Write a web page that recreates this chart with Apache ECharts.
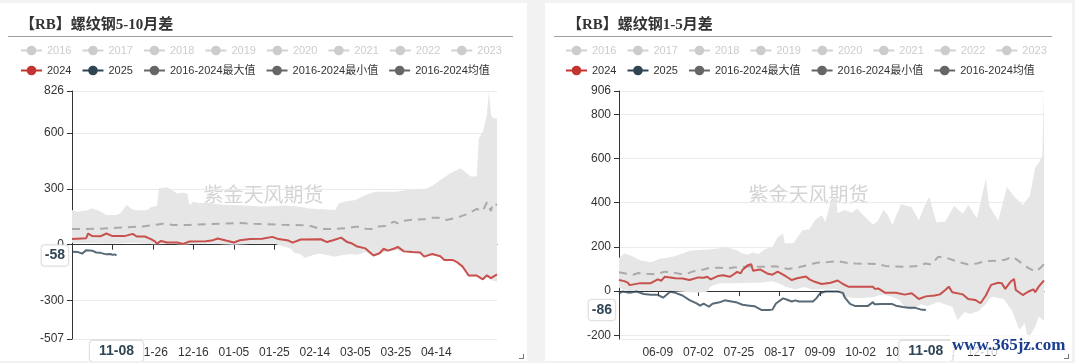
<!DOCTYPE html>
<html><head><meta charset="utf-8">
<script src="https://cdn.jsdelivr.net/npm/echarts@6/dist/echarts.min.js"></script>
<style>
html,body{margin:0;padding:0;background:#f2f2f2;width:1075px;height:363px;overflow:hidden;position:relative;}
.panel{position:absolute;top:3px;width:527px;height:358px;background:#fff;}
#p1{left:0}
#p2{left:545px}
.title{position:absolute;left:20px;top:12px;line-height:18px;font-weight:bold;font-size:15px;font-family:"Liberation Serif","DejaVu Serif","Noto Sans CJK SC";color:#333;z-index:2;}
.rule{position:absolute;left:8px;right:14px;top:33px;height:1px;background:#a0a0a0;z-index:2;}
.chart{position:absolute;left:0;top:0;width:527px;height:358px;}
.corner{position:absolute;right:3px;bottom:2px;width:4px;height:4px;border-right:1px solid #777;border-bottom:1px solid #777;z-index:3;}
.wm{position:absolute;left:950px;top:335px;line-height:20px;padding:0 2px;font-weight:bold;font-size:17px;font-family:"Liberation Serif","DejaVu Serif";color:#1a3d8f;background:rgba(255,255,255,0.75);z-index:5;}
</style></head>
<body>
<div class="panel" id="p1"><div class="chart" id="c1"></div><div class="title">【RB】螺纹钢5-10月差</div><div class="rule"></div><div class="corner"></div></div>
<div class="panel" id="p2"><div class="chart" id="c2"></div><div class="title" style="left:22px">【RB】螺纹钢1-5月差</div><div class="rule" style="left:9px;right:20px"></div><div class="corner"></div></div>
<div class="wm">www.365jz.com</div>
<script>
function dayRange(start, count) {
  const out = []; const d = new Date(start + 'T00:00:00Z');
  for (let i = 0; i < count; i++) {
    out.push(String(d.getUTCMonth() + 1).padStart(2, '0') + '-' + String(d.getUTCDate()).padStart(2, '0'));
    d.setUTCDate(d.getUTCDate() + 1);
  }
  return out;
}
// categories (MM-DD)
const cats1 = dayRange('2023-10-17', 211);
const cats2 = dayRange('2024-05-18', 242);
const years = ['2016','2017','2018','2019','2020','2021','2022','2023'];
const mainNames = ['2024','2025','2016-2024最大值','2016-2024最小值','2016-2024均值'];

// ---- 5-10 spread: [category index, value]
const red1 = [[0,30],[7,35],[8,60],[10,46],[14,45],[17,60],[20,46],[26,46],[30,58],[32,44],[36,44],[39,30],[41,18],[42,6],[44,20],[47,12],[52,12],[55,4],[58,17],[66,18],[69,22],[72,33],[76,22],[80,12],[83,24],[88,30],[94,32],[99,42],[102,30],[107,22],[109,11],[113,28],[123,29],[126,14],[129,24],[133,38],[136,14],[138,8],[141,-10],[145,-20],[149,-58],[152,-46],[154,-22],[156,-32],[159,-22],[161,-12],[164,-36],[168,-40],[172,-42],[174,-64],[178,-50],[182,-62],[184,-82],[188,-82],[190,-92],[193,-118],[196,-166],[200,-166],[203,-186],[205,-164],[207,-180],[210,-160]];
const navy1 = [[0,-38],[3,-40],[5,-48],[7,-30],[10,-32],[12,-42],[14,-44],[17,-52],[19,-50],[20,-55],[21,-52],[22,-58]];
const mean1 = [[0,84],[7,84],[14,86],[24,92],[35,98],[45,113],[50,106],[58,106],[66,110],[74,113],[83,117],[90,112],[97,110],[104,107],[114,105],[118,100],[123,84],[130,84],[136,90],[140,96],[143,97],[145,86],[148,84],[150,96],[155,101],[159,124],[161,115],[164,128],[168,134],[174,136],[177,145],[182,145],[185,133],[190,145],[195,163],[200,192],[203,181],[205,228],[207,181],[208,222],[210,213]];
const max1 = [[0,187],[3,175],[5,183],[7,183],[10,196],[14,178],[17,160],[22,160],[24,169],[25,187],[27,213],[29,196],[31,185],[37,185],[39,201],[42,209],[43,303],[47,309],[49,296],[52,274],[54,281],[57,275],[58,213],[60,231],[63,223],[67,225],[75,215],[85,210],[95,205],[105,210],[112,205],[117,195],[130,187],[132,223],[135,232],[140,240],[145,267],[150,285],[160,285],[167,297],[175,300],[178,315],[182,348],[187,384],[192,411],[197,366],[200,366],[201,572],[203,604],[205,700],[206,826],[207,700],[208,680],[210,680]];
const min1 = [[0,10],[10,8],[20,5],[30,10],[40,2],[42,2],[50,5],[55,0],[60,5],[70,5],[80,0],[90,5],[100,5],[108,-20],[110,-45],[113,-50],[115,-72],[118,-60],[122,-48],[126,-55],[130,-65],[134,-55],[138,-50],[141,-55],[145,-40],[149,-62],[152,-50],[156,-36],[160,-28],[164,-40],[168,-44],[172,-46],[174,-68],[178,-55],[182,-66],[184,-86],[188,-86],[190,-96],[193,-122],[196,-172],[200,-172],[203,-190],[205,-175],[207,-190],[210,-199]];

// ---- 1-5 spread
const red2 = [[0,50],[3,45],[5,38],[6,27],[12,36],[18,36],[19,43],[22,53],[24,47],[26,65],[32,58],[36,57],[40,50],[45,62],[48,60],[50,65],[52,53],[56,68],[59,72],[63,65],[67,87],[69,80],[70,96],[73,117],[75,122],[76,92],[80,98],[84,80],[87,74],[90,88],[91,82],[95,65],[98,50],[101,58],[106,66],[108,53],[111,42],[115,32],[120,38],[124,48],[127,32],[130,20],[144,20],[145,10],[147,12],[151,-8],[157,-8],[162,-16],[166,-10],[170,-36],[174,-24],[179,-20],[182,-15],[185,5],[187,20],[189,-5],[195,-15],[198,-36],[202,-40],[205,-55],[208,-20],[211,28],[215,38],[217,36],[219,10],[222,42],[224,55],[225,5],[229,-18],[232,-3],[235,8],[236,-5],[238,20],[241,48]];
const navy2 = [[0,-10],[2,-2],[6,-8],[10,-2],[14,-13],[18,-17],[22,-17],[25,-30],[27,-17],[29,-3],[32,-8],[36,-20],[40,-41],[44,-56],[46,-66],[48,-57],[51,-71],[53,-57],[57,-51],[60,-42],[63,-46],[67,-52],[70,-62],[74,-66],[77,-69],[81,-86],[85,-86],[87,-84],[89,-56],[90,-47],[93,-33],[95,-38],[98,-47],[100,-42],[102,-47],[110,-47],[112,-32],[114,-10],[117,-2],[124,-2],[127,-8],[128,-28],[131,-58],[134,-68],[141,-68],[144,-50],[145,-60],[149,-58],[155,-59],[157,-66],[161,-72],[164,-75],[168,-76],[171,-83],[172,-80],[174,-86]];
const mean2 = [[0,85],[5,78],[8,74],[11,82],[16,78],[21,76],[26,88],[31,84],[35,77],[39,80],[42,89],[48,98],[52,106],[57,106],[61,102],[65,107],[69,108],[73,111],[80,110],[89,112],[96,100],[102,108],[106,116],[112,128],[119,132],[124,136],[129,128],[134,125],[147,122],[151,114],[155,112],[162,110],[168,112],[174,125],[177,120],[181,155],[186,150],[192,133],[198,120],[203,125],[208,136],[215,138],[219,142],[223,156],[226,140],[232,105],[236,88],[239,105],[241,122]];
const max2 = [[0,150],[3,170],[7,160],[12,140],[18,131],[23,146],[31,157],[36,170],[40,183],[44,185],[50,188],[55,192],[61,200],[67,185],[69,174],[73,165],[76,175],[79,167],[83,190],[87,200],[90,245],[93,260],[94,215],[99,218],[104,276],[108,280],[111,321],[115,343],[117,313],[120,404],[123,426],[124,352],[128,367],[132,355],[135,374],[139,340],[144,300],[147,320],[150,367],[152,350],[155,300],[160,393],[166,380],[170,320],[174,400],[176,426],[180,310],[185,315],[190,385],[195,350],[198,390],[203,330],[208,509],[210,385],[215,320],[220,470],[225,420],[229,390],[233,430],[236,560],[238,580],[240,610],[241,906]];
const min2 = [[0,15],[5,0],[12,2],[20,0],[30,0],[38,-4],[45,-6],[50,-3],[52,22],[57,35],[65,36],[73,38],[80,38],[87,44],[92,30],[95,18],[100,8],[105,18],[110,6],[115,8],[124,8],[127,-26],[135,-32],[144,-28],[149,-15],[155,-26],[159,-41],[162,-71],[166,-86],[171,-60],[175,-68],[181,-50],[189,-71],[192,-131],[196,-95],[199,-104],[204,-90],[208,-60],[211,-26],[218,-35],[223,-90],[227,-176],[230,-146],[232,-217],[236,-161],[238,-116],[241,-134]];

const yRange1 = [-507, 826];
const yRange2 = [-217, 906];

function pointerLabel(fmt, pad) {
  const l = { show: true, color: '#2f4554', fontWeight: 'bold', fontSize: 14, backgroundColor: '#fff',
    padding: pad, borderColor: '#e6e6e6', borderWidth: 1, shadowBlur: 2, shadowColor: 'rgba(0,0,0,0.1)', margin: 4,
    fontFamily: 'Liberation Sans' };
  if (fmt) l.formatter = fmt;
  return l;
}

function build(elId, cats, labelFn, red, navy, mx, mn, mean, yr, gridLR) {
  const chart = echarts.init(document.getElementById(elId));
  const last = navy[navy.length - 1];
  const lineBase = { type: 'line', symbol: 'circle', showSymbol: false, animation: false, silent: true };
  const series = years.map(y => Object.assign({}, lineBase, { name: y, data: [], itemStyle: { color: '#ccc' } }));
  series.push(Object.assign({}, lineBase, { name: 'band', type: 'custom', data: [0], z: 1,
    renderItem: function (params, api) {
      const pts = mx.map(p => api.coord(p)).concat(mn.slice().reverse().map(p => api.coord(p)));
      return { type: 'polygon', shape: { points: pts }, style: { fill: '#e6e6e6' } };
    } }));
  series.push(Object.assign({}, lineBase, { name: '2016-2024最大值', data: mx, z: 2, itemStyle: { color: '#666' }, lineStyle: { opacity: 0 } }));
  series.push(Object.assign({}, lineBase, { name: '2016-2024最小值', data: mn, z: 2, itemStyle: { color: '#666' }, lineStyle: { opacity: 0 } }));
  series.push(Object.assign({}, lineBase, { name: '2016-2024均值', data: mean, z: 3, itemStyle: { color: '#666' }, lineStyle: { color: '#aaa', width: 2, type: [8, 6] } }));
  series.push(Object.assign({}, lineBase, { name: '2024', data: red, z: 4, itemStyle: { color: '#c23531' }, lineStyle: { color: '#c23531', width: 2, opacity: 0.85 } }));
  series.push(Object.assign({}, lineBase, { name: '2025', data: navy, z: 5, itemStyle: { color: '#2f4554' }, lineStyle: { color: '#2f4554', width: 2, opacity: 0.8 } }));

  const sel = {}; years.forEach(y => sel[y] = false);
  const legendCommon = { left: 15, width: 510, itemWidth: 21, itemHeight: 12, itemGap: 10, inactiveColor: '#ccc',
    textStyle: { fontSize: 11, color: '#333', fontFamily: '"Liberation Sans", "Noto Sans CJK SC"' } };
  const mainColors = ['#c23531', '#2f4554', '#666', '#666', '#666'];
  chart.setOption({
    animation: false,
    textStyle: { fontFamily: '"Liberation Sans", "Noto Sans CJK SC"' },
    legend: [
      Object.assign({ top: 37, data: years, selected: sel }, legendCommon),
      Object.assign({ top: 57, data: mainNames.map((n, i) => ({ name: n, itemStyle: { color: mainColors[i] },
        lineStyle: { color: mainColors[i], width: 2, type: 'solid', opacity: 1 } })) }, legendCommon)
    ],
    graphic: [{ type: 'text', left: 'center', top: 181, z: 0, silent: true,
      style: { text: '紫金天风期货', fontSize: 20, fill: 'rgba(160,160,160,0.45)', fontFamily: 'Noto Sans CJK SC' } }],
    grid: { left: gridLR[0], right: gridLR[1], top: 88, bottom: 22 },
    xAxis: [
      { type: 'category', data: cats, boundaryGap: false, position: 'bottom',
        axisLine: { show: false, onZero: false }, axisTick: { show: false },
        axisLabel: { interval: labelFn, color: '#333', fontSize: 12, margin: 8 },
        splitLine: { show: false },
        axisPointer: { show: true, type: 'none', value: last[0], status: 'show', snap: false, triggerTooltip: false, label: pointerLabel(null, [3, 9]) } },
      { type: 'category', data: cats, boundaryGap: false, position: 'bottom',
        axisLine: { show: true, onZero: true, lineStyle: { color: '#333', width: 1 } },
        axisTick: { show: true, interval: labelFn, length: 5, lineStyle: { color: '#333' } },
        axisLabel: { show: false }, splitLine: { show: false } }
    ],
    yAxis: { type: 'value', min: yr[0], max: yr[1],
      axisLine: { show: true, lineStyle: { color: '#333' } },
      axisTick: { show: true, length: 5, lineStyle: { color: '#333' } },
      axisLabel: { color: '#333', fontSize: 12 },
      splitLine: { lineStyle: { color: '#eaeaea' } },
      axisPointer: { show: true, type: 'none', value: last[1], status: 'show', triggerTooltip: false,
        label: pointerLabel(p => String(Math.round(p.value)), [3, 3]) } },
    series: series
  });
}

build('c1', cats1, i => i > 0 && i <= 180 && i % 20 === 0, red1, navy1, max1, min1, mean1, yRange1, [72, 30]);
build('c2', cats2, i => i <= 206 && i % 23 === 22, red2, navy2, max2, min2, mean2, yRange2, [74, 28]);
</script>
</body></html>
